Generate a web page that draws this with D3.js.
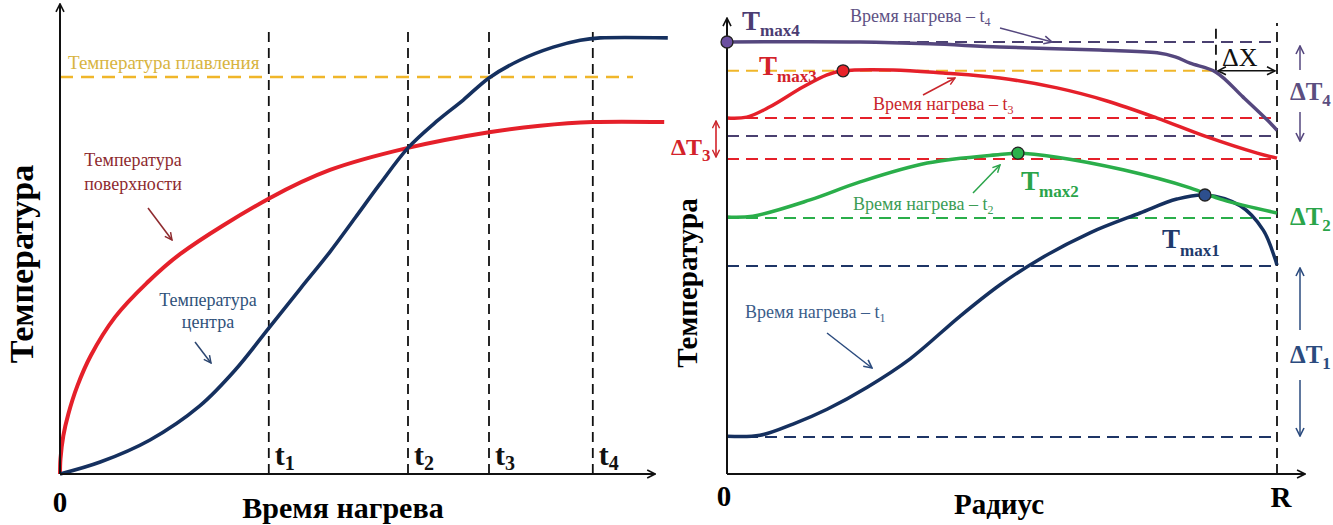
<!DOCTYPE html>
<html>
<head>
<meta charset="utf-8">
<script src="https://cdn.jsdelivr.net/npm/d3@7"></script>
<style>
body { margin: 0; background: #fff; }
</style>
</head>
<body>
<svg id="chart" width="1333" height="525"></svg>
<script>
// left panel: temperature vs heating time
var surfaceTime = [0, 0.08, 0.55, 1.38, 2.88, 5.12, 9.17, 14.45, 20, 35, 45, 58, 71.5, 80, 88.8, 100.7]
var surfaceTemp = [0, 3.3, 8.3, 13, 19.1, 25.7, 34.1, 41.5, 47.8, 60, 66.1, 70.9, 74.3, 75.7, 76.5, 76.5]
var centerTime = [0, 6.7, 15, 23.3, 29.2, 34.8, 40, 45, 49.2, 53.3, 58, 62.8, 67.2, 71.5, 76.7, 82.2, 86.7, 90, 101.3]
var centerTemp = [0, 2.6, 7.4, 14.8, 22.6, 31.7, 40.2, 48.3, 55.7, 63, 70.9, 76.7, 81.3, 86.1, 90, 92.8, 94.3, 94.8, 94.8]
var heatMarks = [34.8, 58, 71.5, 88.8]
var heatMarkLabels = ["1", "2", "3", "4"]
var meltTemp = 86.3

// right panel: temperature vs radius for heating times t1..t4
var t1Radius = [0, 0.06, 0.12, 0.182, 0.255, 0.333, 0.424, 0.496, 0.569, 0.66, 0.751, 0.818, 0.869, 0.933, 0.975, 0.996, 1]
var t1Temp = [8.4, 8.6, 11.1, 14.4, 19.3, 25.6, 35.1, 42, 47.8, 53.6, 58, 61.1, 62, 59.6, 54.2, 48, 46.4]
var t2Radius = [0, 0.047, 0.151, 0.242, 0.364, 0.496, 0.529, 0.6, 0.72, 0.842, 0.902, 1]
var t2Temp = [57.1, 57.3, 60.9, 64.9, 69.1, 71, 71.3, 70.4, 67.6, 63.6, 60.9, 58]
var t3Radius = [0, 0.036, 0.078, 0.138, 0.182, 0.211, 0.302, 0.393, 0.496, 0.6, 0.691, 0.782, 0.873, 0.964, 1]
var t3Temp = [79.1, 79.3, 81.6, 86, 88.7, 89.6, 89.8, 89.1, 88, 85.8, 82.9, 79.1, 74.9, 71.3, 70.2]
var t4Radius = [0, 0.242, 0.369, 0.496, 0.678, 0.782, 0.815, 0.842, 0.889, 0.938, 0.982, 1]
var t4Temp = [96, 96, 95.6, 94.9, 94.2, 93.6, 92.7, 91.3, 89.3, 83.8, 78.7, 76.4]
var peakIndex = [12, 6, 5, 0]   // Tmax1..Tmax4
var levelsT1 = [46.2, 8.2]
var levelsT2 = [56.9]
var levelsT3 = [79.1, 70]
var levelsT4 = [96, 75.1]
var meltLevel = 89.6
var deltaXRadius = 0.889

var navy = "#15305f", red = "#e5202a", green = "#2aae4a", purple = "#55477e", yellow = "#f0b62a"

var svg = d3.select("#chart").style("font-family", "'Liberation Serif', 'Times New Roman', serif")
var defs = svg.append("defs")

function chevron(id, color, size) {
    defs.append("marker")
        .attr("id", id)
        .attr("viewBox", "0 0 10 10")
        .attr("refX", 9).attr("refY", 5)
        .attr("markerWidth", size).attr("markerHeight", size)
        .attr("markerUnits", "userSpaceOnUse")
        .attr("orient", "auto-start-reverse")
        .append("path")
        .attr("d", "M1,1L9,5L1,9")
        .attr("fill", "none")
        .attr("stroke", color)
        .attr("stroke-width", 1.6)
}
chevron("arrBlack", "#111", 10)
chevron("arrRed", "#8e2a2e", 9)
chevron("arrNavy", "#2c4670", 9)
chevron("arrPurple", "#55477e", 10)
chevron("arrRed2", "#c9262c", 9)
chevron("arrGreen", "#2aa44a", 9)
chevron("arrNavy2", "#2b4b7e", 10)

function arrow(x1, y1, x2, y2, color, marker, both, w) {
    svg.append("line")
        .attr("x1", x1).attr("y1", y1).attr("x2", x2).attr("y2", y2)
        .attr("stroke", color).attr("stroke-width", w || 1.5)
        .attr("marker-end", "url(#" + marker + ")")
        .attr("marker-start", both ? "url(#" + marker + ")" : null)
}

function subText(x, y, main, sub, size, subSize, color, weight, dy) {
    var t = svg.append("text")
        .attr("x", x).attr("y", y)
        .attr("fill", color)
        .attr("font-weight", weight || "normal")
        .attr("font-size", size + "px")
    t.append("tspan").text(main)
    t.append("tspan").attr("font-size", subSize + "px").attr("dy", dy).text(sub)
    return t
}

// ---------- left panel ----------
var xL = d3.scaleLinear().domain([0, 100]).range([60, 660])
var yL = d3.scaleLinear().domain([0, 100]).range([474, 14])

svg.append("g").selectAll("line")
    .data(heatMarks)
    .enter().append("line")
    .attr("x1", d => xL(d)).attr("x2", d => xL(d))
    .attr("y1", yL(0)).attr("y2", yL(96.5))
    .attr("stroke", "#111").attr("stroke-width", 1.8)
    .attr("stroke-dasharray", "10,6")

svg.append("line")
    .attr("x1", xL(0)).attr("x2", xL(95.5))
    .attr("y1", yL(meltTemp)).attr("y2", yL(meltTemp))
    .attr("stroke", yellow).attr("stroke-width", 2.5)
    .attr("stroke-dasharray", "13,8")

svg.append("text")
    .attr("x", 68).attr("y", 69)
    .attr("font-size", "19px").attr("fill", "#d8b440")
    .text("Температура плавления")

var lineL = d3.line()
    .x(d => xL(d[0])).y(d => yL(d[1]))
    .curve(d3.curveCatmullRom.alpha(0.5))

svg.append("path")
    .attr("d", lineL(d3.zip(surfaceTime, surfaceTemp)))
    .attr("fill", "none").attr("stroke", red).attr("stroke-width", 4)

svg.append("path")
    .attr("d", lineL(d3.zip(centerTime, centerTemp)))
    .attr("fill", "none").attr("stroke", navy).attr("stroke-width", 3.6)

// axes
svg.append("line")
    .attr("x1", xL(0)).attr("x2", xL(0)).attr("y1", yL(0)).attr("y2", yL(102.2))
    .attr("stroke", "#111").attr("stroke-width", 2).attr("marker-end", "url(#arrBlack)")
svg.append("line")
    .attr("x1", xL(0)).attr("x2", xL(99.2)).attr("y1", yL(0)).attr("y2", yL(0))
    .attr("stroke", "#111").attr("stroke-width", 2).attr("marker-end", "url(#arrBlack)")

svg.append("g").selectAll("text")
    .data(heatMarks)
    .enter().append("text")
    .attr("x", d => xL(d) + 6).attr("y", 465)
    .attr("font-size", "30px").attr("font-weight", "bold").attr("fill", "#111")
    .each(function (d, i) {
        d3.select(this).append("tspan").text("t")
        d3.select(this).append("tspan").attr("font-size", "20px").attr("dy", 5).text(heatMarkLabels[i])
    })

svg.append("text")
    .attr("x", xL(0)).attr("y", 512).attr("text-anchor", "middle")
    .attr("font-size", "29px").attr("font-weight", "bold").text("0")

svg.append("text")
    .attr("x", 343).attr("y", 518).attr("text-anchor", "middle")
    .attr("font-size", "30px").attr("font-weight", "bold").text("Время нагрева")

svg.append("text")
    .attr("transform", "translate(33,264) rotate(-90)")
    .attr("text-anchor", "middle")
    .attr("font-size", "34px").attr("font-weight", "bold").text("Температура")

svg.append("text").attr("x", 133).attr("y", 166).attr("text-anchor", "middle")
    .attr("font-size", "18px").attr("fill", "#8e2a2e").text("Температура")
svg.append("text").attr("x", 133).attr("y", 190).attr("text-anchor", "middle")
    .attr("font-size", "18px").attr("fill", "#8e2a2e").text("поверхности")
arrow(148, 208, 172, 240, "#8e2a2e", "arrRed", false, 1.5)

svg.append("text").attr("x", 208).attr("y", 306).attr("text-anchor", "middle")
    .attr("font-size", "18px").attr("fill", "#30527a").text("Температура")
svg.append("text").attr("x", 208).attr("y", 328).attr("text-anchor", "middle")
    .attr("font-size", "18px").attr("fill", "#30527a").text("центра")
arrow(195, 342, 211, 363, "#2c4670", "arrNavy", false, 1.5)

// ---------- right panel ----------
var xR = d3.scaleLinear().domain([0, 1]).range([727, 1277])
var yR = d3.scaleLinear().domain([0, 100]).range([474, 24])

var levels = [
    { v: levelsT4[0], c: "#4a4070" },
    { v: meltLevel, c: yellow, end: deltaXRadius },
    { v: levelsT3[0], c: red },
    { v: levelsT4[1], c: "#4a4070" },
    { v: levelsT3[1], c: red },
    { v: levelsT2[0], c: green },
    { v: levelsT1[0], c: "#1e3566" },
    { v: levelsT1[1], c: "#1e3566" }
]

svg.append("g").selectAll("line")
    .data(levels)
    .enter().append("line")
    .attr("x1", xR(0)).attr("x2", d => xR(d.end || 1))
    .attr("y1", d => yR(d.v)).attr("y2", d => yR(d.v))
    .attr("stroke", d => d.c).attr("stroke-width", 2)
    .attr("stroke-dasharray", "12,7")

// vertical dashed at R and at the start of ΔX
svg.append("line")
    .attr("x1", xR(1)).attr("x2", xR(1)).attr("y1", yR(0)).attr("y2", yR(100.2))
    .attr("stroke", "#111").attr("stroke-width", 1.8).attr("stroke-dasharray", "10,6")
svg.append("line")
    .attr("x1", xR(deltaXRadius)).attr("x2", xR(deltaXRadius)).attr("y1", yR(meltLevel)).attr("y2", yR(100.2))
    .attr("stroke", "#111").attr("stroke-width", 1.8).attr("stroke-dasharray", "10,6")

var lineR = d3.line()
    .x(d => xR(d[0])).y(d => yR(d[1]))
    .curve(d3.curveCatmullRom.alpha(0.5))

var seriesR = [
    { r: t1Radius, t: t1Temp, c: navy, m: "#2d4f8e" },
    { r: t2Radius, t: t2Temp, c: green, m: "#2bb24c" },
    { r: t3Radius, t: t3Temp, c: red, m: "#e8232a" },
    { r: t4Radius, t: t4Temp, c: purple, m: "#6b4fa0" }
]

svg.append("g").selectAll("path")
    .data(seriesR)
    .enter().append("path")
    .attr("d", d => lineR(d3.zip(d.r, d.t)))
    .attr("fill", "none").attr("stroke", d => d.c).attr("stroke-width", 3.5)

// axes
svg.append("line")
    .attr("x1", xR(0)).attr("x2", xR(0)).attr("y1", yR(0)).attr("y2", yR(101.3))
    .attr("stroke", "#111").attr("stroke-width", 2).attr("marker-end", "url(#arrBlack)")
svg.append("line")
    .attr("x1", xR(0)).attr("x2", xR(1.051)).attr("y1", yR(0)).attr("y2", yR(0))
    .attr("stroke", "#111").attr("stroke-width", 2).attr("marker-end", "url(#arrBlack)")

svg.append("g").selectAll("circle")
    .data(seriesR)
    .enter().append("circle")
    .attr("cx", (d, i) => xR(d.r[peakIndex[i]]))
    .attr("cy", (d, i) => yR(d.t[peakIndex[i]]))
    .attr("r", 6)
    .attr("fill", d => d.m).attr("stroke", "#222").attr("stroke-width", 1.3)

// ΔX
arrow(xR(deltaXRadius) + 2, yR(meltLevel), xR(1) - 2, yR(meltLevel), "#111", "arrBlack", true, 1.6)
svg.append("text").attr("x", 1222).attr("y", 66).attr("font-size", "26px").attr("fill", "#111").text("ΔX")

// labels
subText(742, 30, "T", "max4", 27, 17, "#4b3c72", "bold", 6)
subText(850, 22, "Время нагрева – t", "4", 18, 12, "#5e5184", "normal", 4)
arrow(1000, 28, 1052, 42, "#55477e", "arrPurple", false, 1.5)

subText(759, 75, "T", "max3", 27, 17, "#d3222a", "bold", 7)
subText(873, 110, "Время нагрева – t", "3", 18, 12, "#c9262c", "normal", 4)
arrow(923, 95, 955, 78, "#c9262c", "arrRed2", false, 1.5)

subText(671, 155, "ΔT", "3", 24, 17, "#d3222a", "bold", 6)
arrow(716, 121, 716, 157, "#d3222a", "arrRed2", true, 1.6)

subText(853, 210, "Время нагрева – t", "2", 18, 12, "#3c9c55", "normal", 4)
arrow(973, 193, 1000, 165, "#2aa44a", "arrGreen", false, 1.5)
subText(1021, 190, "T", "max2", 27, 17, "#2aa44a", "bold", 7)

subText(1162, 248, "T", "max1", 27, 17, "#1e3a6c", "bold", 8)
subText(745, 318, "Время нагрева – t", "1", 18, 12, "#3b5d8a", "normal", 4)
arrow(827, 333, 872, 368, "#2b4b7e", "arrNavy2", false, 1.5)

subText(1290, 100, "ΔT", "4", 25, 17, "#5b4e80", "bold", 6)
arrow(1300, 70, 1300, 46, "#55477e", "arrPurple", false, 1.5)
arrow(1300, 112, 1300, 141, "#55477e", "arrPurple", false, 1.5)

subText(1290, 225, "ΔT", "2", 25, 17, "#2aa44a", "bold", 6)

subText(1290, 363, "ΔT", "1", 25, 17, "#2b4b7e", "bold", 6)
arrow(1300, 330, 1300, 268, "#2b4b7e", "arrNavy2", false, 1.5)
arrow(1300, 380, 1300, 436, "#2b4b7e", "arrNavy2", false, 1.5)

svg.append("text")
    .attr("x", xR(0) - 3).attr("y", 506).attr("text-anchor", "middle")
    .attr("font-size", "29px").attr("font-weight", "bold").text("0")
svg.append("text")
    .attr("x", xR(1) + 4).attr("y", 507).attr("text-anchor", "middle")
    .attr("font-size", "29px").attr("font-weight", "bold").text("R")
svg.append("text")
    .attr("x", 999).attr("y", 514).attr("text-anchor", "middle")
    .attr("font-size", "29px").attr("font-weight", "bold").text("Радиус")

svg.append("text")
    .attr("transform", "translate(697,283) rotate(-90)")
    .attr("text-anchor", "middle")
    .attr("font-size", "29px").attr("font-weight", "bold").text("Температура")
</script>
</body>
</html>
